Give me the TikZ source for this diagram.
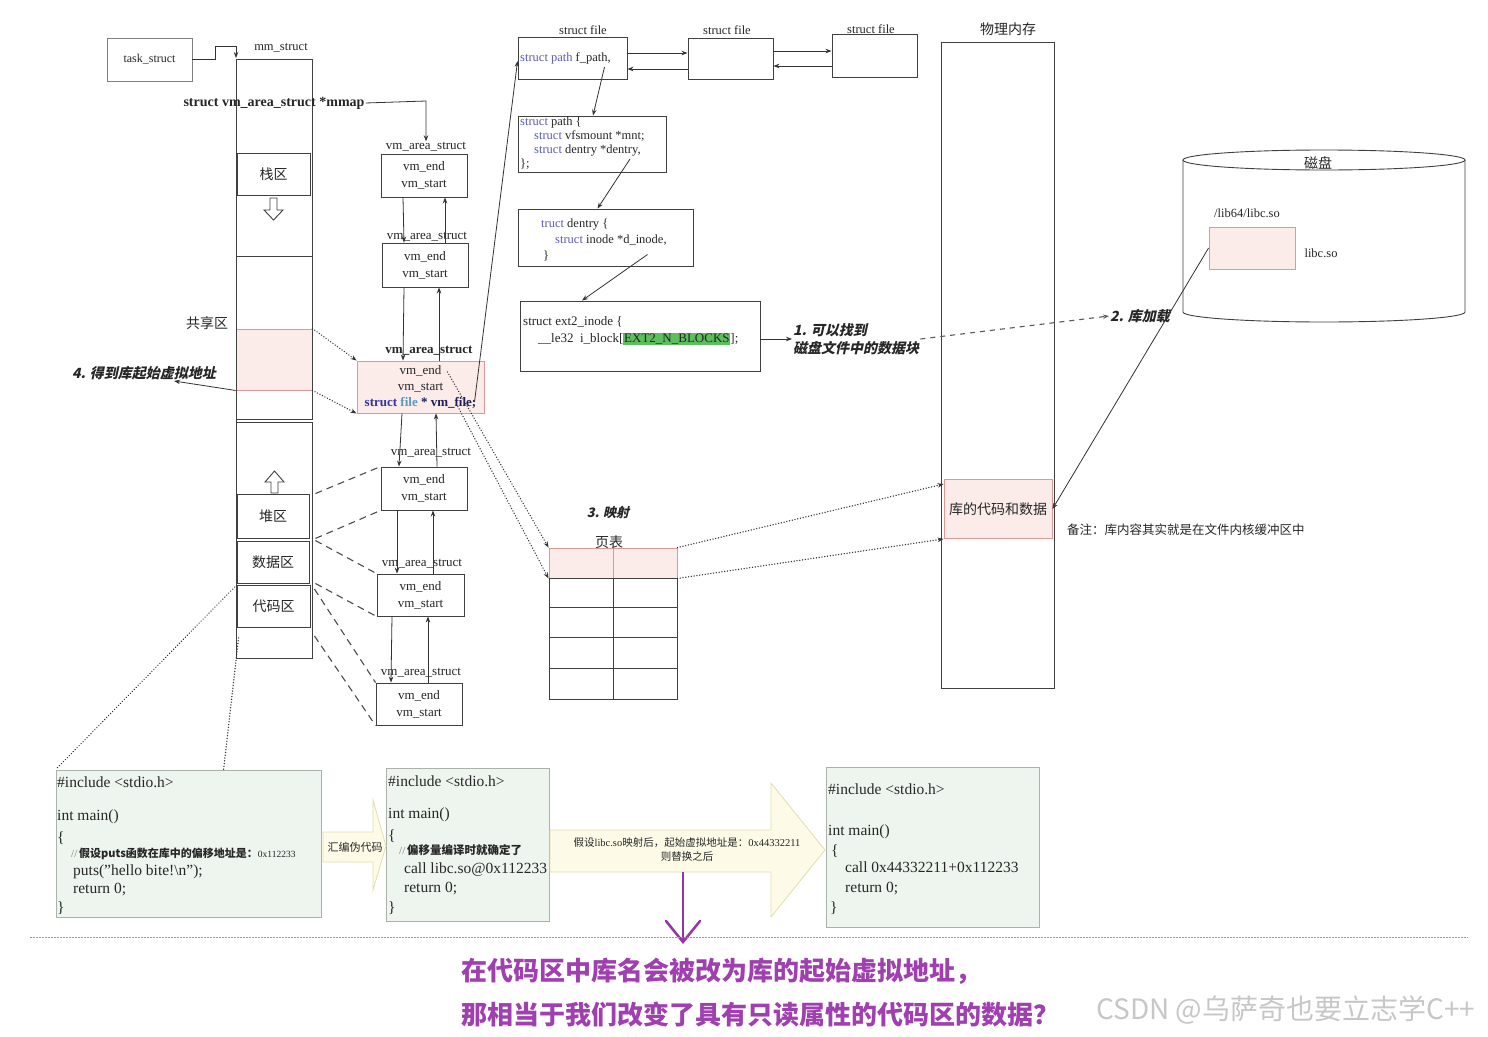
\documentclass[tikz,border=0pt]{standalone}
\usepackage{fontspec}
\setmainfont{Liberation Serif}
\newfontfamily\cjk{Noto Sans CJK SC}
\newfontfamily\cjkbi{Noto Sans CJK SC}[FakeSlant=0.22]
\usetikzlibrary{arrows.meta,calc}
\definecolor{pinkfill}{RGB}{251,236,234}
\definecolor{pinkline}{RGB}{226,150,150}
\definecolor{codefill}{RGB}{238,245,238}
\definecolor{codeline}{RGB}{170,178,170}
\definecolor{arrowfill}{RGB}{253,251,232}
\definecolor{arrowline}{RGB}{228,222,170}
\definecolor{kwblue}{RGB}{50,50,170}
\definecolor{kwlight}{RGB}{90,150,200}
\definecolor{kwnavy}{RGB}{30,30,90}
\definecolor{kwpath}{RGB}{90,90,190}
\definecolor{hlgreen}{RGB}{92,190,92}
\definecolor{purp}{RGB}{160,64,176}
\definecolor{purpline}{RGB}{150,50,170}
\newcommand{\fsz}[2]{\fontsize{#1}{#2}\selectfont}
\begin{document}
\begin{tikzpicture}[x=1pt,y=-1pt,
  every node/.style={text=black!85, inner sep=1pt},
  box/.style={draw=black!75, line width=0.9pt, inner sep=0pt, align=center},
  lbl/.style={font=\fsz{13}{15}},
  vm/.style={box, minimum width=86, minimum height=43, font=\fsz{13}{17}},
  seg/.style={box, font=\cjk\fsz{14}{16}},
  pinkb/.style={fill=pinkfill, draw=pinkline},
  arr/.style={draw=black!80, line width=0.8pt, -{Stealth[length=6pt,width=4.5pt]}},
  dsh/.style={draw=black!70, line width=1.1pt, dash pattern=on 7pt off 5pt},
  dot/.style={draw=black!80, line width=1.5pt, line cap=round, dash pattern=on 0.01pt off 2.8pt},
  darr/.style={dot, -{Stealth[length=6pt,width=4.5pt]}},
  codebox/.style={draw=codeline, fill=codefill, line width=0.8pt, inner sep=0pt},
  code/.style={anchor=base west, font=\fsz{15.5}{18}, inner sep=0pt},
  bi/.style={font=\cjkbi\bfseries\fsz{14}{18}}
]
\useasboundingbox (0,0) rectangle (1488,1036);
\fill[white] (0,0) rectangle (1488,1036);

% ---------- task_struct / mm_struct ----------
\node[box, draw=black!50, minimum width=85, minimum height=43, font=\fsz{12}{14}] (task) at (149.5,59.5) {task\_struct};
\coordinate (mmtop) at (236,58);
\draw[arr] (task.east) -- (215,59.5) -- (215,46) -- (236,46) -- (mmtop);
\node[font=\fsz{12.5}{14}] at (281,48) {mm\_struct};

% column
\node[box, pinkb, minimum width=76, minimum height=61] (shared) at (274,359.5) {};
\draw[draw=black!75, line width=0.9pt] (236,59) rectangle (312,256);
\draw[draw=black!75, line width=0.9pt] (236,256) rectangle (312,419);
\draw[draw=black!75, line width=0.9pt] (236,422) rectangle (312,658);
\draw[draw=black!75, line width=0.9pt] (236,419) -- (236,422);
\node[seg, minimum width=73, minimum height=42] (stack) at (273.5,174.5) {栈区};
\draw[draw=black!75, line width=0.9pt, fill=white] (270,198) -- (277,198) -- (277,210) -- (283,210) -- (273.5,220) -- (264,210) -- (270,210) -- cycle;
\draw[draw=black!75, line width=0.9pt, fill=white] (271,493) -- (271,482) -- (265,482) -- (274.5,471) -- (284,482) -- (278,482) -- (278,493) -- cycle;
\node[seg, minimum width=72, minimum height=44] (heap) at (273,516) {堆区};
\node[seg, minimum width=72, minimum height=42] (data) at (273,562) {数据区};
\node[seg, minimum width=73, minimum height=42] (code) at (273.5,606.5) {代码区};
\node[font=\cjk\fsz{14}{16}] at (207,323) {共享区};

\node[font=\bfseries\fsz{14}{16}] (mmap) at (274,103) {struct vm\_area\_struct *mmap};

\node[bi, anchor=west] (getaddr) at (71,373) {4. 得到库起始虚拟地址};
\draw[arr] (shared.south west) -- ($(getaddr.south)+(30,0)$);

% ---------- vm_area_struct chain ----------
\node[lbl] (vl1) at (426,147) {vm\_area\_struct};
\node[vm] (vm1) at (424,175.5) {vm\_end\\vm\_start};
\node[lbl] (vl2) at (427,237) {vm\_area\_struct};
\node[vm, minimum height=44] (vm2) at (425,265) {vm\_end\\vm\_start};
\node[lbl, font=\bfseries\fsz{13}{15}] (vl3) at (429,351) {vm\_area\_struct};
\node[box, pinkb, minimum width=127, minimum height=52, font=\fsz{13}{16}] (vm3) at (420.5,387)
  {vm\_end\\vm\_start\\{\bfseries\textcolor{kwblue}{struct} \textcolor{kwlight}{file} \textcolor{kwnavy}{* vm\_file;}}};
\node[lbl] (vl4) at (431,453) {vm\_area\_struct};
\node[vm] (vm4) at (424,488.5) {vm\_end\\vm\_start};
\node[lbl] (vl5) at (422,564) {vm\_area\_struct};
\node[vm, minimum width=87, minimum height=42] (vm5) at (420.5,595) {vm\_end\\vm\_start};
\node[lbl] (vl6) at (421,673) {vm\_area\_struct};
\node[vm, minimum height=42] (vm6) at (419,704) {vm\_end\\vm\_start};

\draw[arr] (mmap.east) -- (426,101) -- (vl1.north);

\draw[arr] (403,0 |- vm1.south) -- (404,0 |- vm2.north);
\draw[arr] (445,0 |- vm2.north) -- (445,0 |- vm1.south);
\draw[arr] (404,0 |- vm2.south) -- (403,0 |- vm3.north);
\draw[arr] (439,0 |- vm3.north) -- (439,0 |- vm2.south);
\draw[arr] (402,0 |- vm3.south) -- (399,0 |- vm4.north);
\draw[arr] (437,0 |- vm4.north) -- (436,0 |- vm3.south);
\draw[arr] (397,0 |- vm4.south) -- (397,0 |- vm5.north);
\draw[arr] (433,0 |- vm5.north) -- (433,0 |- vm4.south);
\draw[arr] (392,0 |- vm5.south) -- (391,0 |- vm6.north);
\draw[arr] (428,0 |- vm6.north) -- (428,0 |- vm5.south);

% column -> vm links
\draw[darr] (shared.north east) -- (vm3.north west);
\draw[darr] (shared.south east) -- (vm3.south west);
\draw[dsh] ($(heap.north east)+(6,0)$) -- (vm4.north west);
\draw[dsh] ($(heap.south east)+(6,0)$) -- (vm4.south west);
\draw[dsh] ($(data.north east)+(6,0)$) -- (vm5.north west);
\draw[dsh] ($(data.south east)+(6,0)$) -- (vm5.south west);
\draw[dsh] ($(code.north east)+(4,4)$) -- (vm6.north west);
\draw[dsh] ($(code.south east)+(4,8)$) -- (vm6.south west);

% ---------- struct file chain ----------
\node[font=\fsz{12.5}{14}] at (583,30) {struct file};
\node[font=\fsz{12.5}{14}] at (727,30) {struct file};
\node[font=\fsz{12.5}{14}] at (871,29) {struct file};
\node[box, minimum width=109, minimum height=42] (sf1) at (572.5,58) {};
\node[anchor=west, font=\fsz{12.5}{14}, inner sep=0pt] at (520,58) {\textcolor{kwpath}{struct path} f\_path,};
\node[box, minimum width=85, minimum height=41] (sf2) at (730.5,58.5) {};
\node[box, minimum width=85, minimum height=43] (sf3) at (874.5,55.5) {};
\draw[arr] (sf1.east |- 0,53) -- (sf2.west |- 0,53);
\draw[arr] (sf2.west |- 0,69) -- (sf1.east |- 0,69);
\draw[arr] (sf2.east |- 0,51) -- (sf3.west |- 0,51);
\draw[arr] (sf3.west |- 0,66) -- (sf2.east |- 0,66);

\draw[arr] ($(vm3.center)+(54,15)$) -- ($(sf1.west)+(0,3)$);

\node[box, minimum width=148, minimum height=56] (sp) at (592,144) {};
\node[anchor=north west, align=left, font=\fsz{12.5}{14}, inner sep=0pt] at (520,117)
  {\textcolor{kwpath}{struct} path \{\\\hspace*{14pt}\textcolor{kwpath}{struct} vfsmount *mnt;\\\hspace*{14pt}\textcolor{kwpath}{struct} dentry *dentry,\\\};};
\draw[arr] ($(sf1.center)+(32,9)$) -- ($(sp.north)+(1,0)$);

\node[box, minimum width=175, minimum height=57] (dn) at (605.5,237.5) {};
\node[anchor=north west, align=left, font=\fsz{12.5}{16}, inner sep=0pt] at (541,219)
  {\textcolor{kwpath}{truct} dentry \{\\\hspace*{14pt}\textcolor{kwpath}{struct} inode *d\_inode,\\\hspace*{2pt}\}};
\draw[arr] ($(sp.center)+(38,15)$) -- ($(dn.north)+(-8,0)$);

\node[box, minimum width=240, minimum height=70] (ex) at (640,336) {};
\node[anchor=north west, align=left, font=\fsz{13}{17}, inner sep=0pt] at (523,316)
  {struct ext2\_inode \{\\\hspace*{15pt}\_\_le32\ \ i\_block{[}{\setlength{\fboxsep}{0.8pt}\colorbox{hlgreen}{EXT2\_N\_BLOCKS}}];};
\draw[arr] ($(dn.center)+(42,17)$) -- ($(ex.north)+(-58,0)$);

\node[bi, anchor=west, align=left] (find) at (792,339) {1. 可以找到\\磁盘文件中的数据块};
\draw[arr] (ex.east |- find.west) -- (find.west);

% ---------- physical memory ----------
\node[font=\cjk\fsz{14}{16}] at (1008,29) {物理内存};
\node[box, minimum width=113, minimum height=646] (mem) at (997.5,365) {};
\node[box, pinkb, minimum width=108, minimum height=59, font=\cjk\fsz{14}{16}] (lib) at (998,509) {库的代码和数据};
\node[anchor=west, font=\cjk\fsz{12.5}{14}] at (1066,530) {备注：库内容其实就是在文件内核缓冲区中};

\node[bi, anchor=west] (load) at (1109,316) {2. 库加载};
\draw[draw=black!65, line width=1.1pt, dash pattern=on 5pt off 5pt, -{Stealth[length=6pt,width=4.5pt]}] (find.east) -- (load.west);

% ---------- disk ----------
\draw[draw=black!75, line width=0.9pt] (1183,160) -- (1183,312) arc[start angle=180, end angle=0, x radius=141, y radius=10] -- (1465,160);
\draw[draw=black!75, line width=0.9pt] (1324,160) ellipse [x radius=141, y radius=10];
\node[font=\cjk\fsz{14}{16}] at (1318,163) {磁盘};
\node[font=\fsz{12.5}{14}] at (1247,213) {/lib64/libc.so};
\node[box, pinkb, minimum width=86, minimum height=42] (libc) at (1252,248) {};
\node[font=\fsz{12.5}{14}] at (1321,253) {libc.so};
\draw[arr] (libc.west) -- (lib.east);

% ---------- page table ----------
\node[font=\cjkbi\bfseries\fsz{13}{16}] at (608,513) {3. 映射};
\node[font=\cjk\fsz{14}{16}] at (609,542) {页表};
\node[box, pinkb, minimum width=64, minimum height=30] (pt1) at (581,563) {};
\node[box, pinkb, minimum width=64, minimum height=30] (pt2) at (645,563) {};
\draw[draw=black!75, line width=0.9pt] (549,578) rectangle (677,699);
\draw[draw=black!75, line width=0.9pt] (549,607) -- (677,607) (549,637) -- (677,637) (549,668) -- (677,668) (613,578) -- (613,699);
\draw[darr] ($(vm3.center)+(27,-15)$) -- (pt1.north west);
\draw[darr] ($(vm3.center)+(36,17)$) -- (pt1.south west);
\draw[darr] (pt2.north east) -- ($(lib.north west)+(0,5)$);
\draw[darr] (pt2.south east) -- (lib.south west);

% ---------- code boxes ----------
\node[codebox, minimum width=265, minimum height=147] (cb1) at (188.5,843.5) {};
\node[codebox, minimum width=163, minimum height=153] (cb2) at (467.5,844.5) {};
\node[codebox, minimum width=213, minimum height=160] (cb3) at (932.5,847) {};

\draw[dot] (code.north west) -- (cb1.north west);
\draw[dot] ($(code.south west)+(2,10)$) -- ($(cb1.north west)+(168,0)$);

\node[code] at (57,787) {\#include <stdio.h>};
\node[code] at (57,820) {int main()};
\node[code] at (57,842) {\{};
\node[code] at (71,857) {{\color{black!50}\fsz{11}{12}//\,}{\cjk\bfseries\fsz{11}{12}假设puts函数在库中的偏移地址是：}{\fsz{9.5}{12}0x112233}};
\node[code] at (73,875) {puts("hello bite!\textbackslash n");};
\node[code] at (73,893) {return 0;};
\node[code] at (57,912) {\}};

\node[code] at (388,786) {\#include <stdio.h>};
\node[code] at (388,818) {int main()};
\node[code] at (388,840) {\{};
\node[code] at (399,854) {{\color{black!50}\fsz{11}{12}//\,}{\cjk\bfseries\fsz{11.5}{12}偏移量编译时就确定了}};
\node[code] at (404,873) {call libc.so@0x112233};
\node[code] at (404,892) {return 0;};
\node[code] at (388,912) {\}};

\node[code] at (828,794) {\#include <stdio.h>};
\node[code] at (828,835) {int main()};
\node[code] at (831,855) {\{};
\node[code] at (845,872) {call 0x44332211+0x112233};
\node[code] at (845,892) {return 0;};
\node[code] at (830,912) {\}};

% block arrows
\draw[draw=arrowline, fill=arrowfill, line width=0.8pt] (323,832) -- (373,832) -- (373,800) -- (386,846) -- (373,890) -- (373,862) -- (323,862) -- cycle;
\node[font=\cjk\fsz{11}{12}] at (355,847) {汇编伪代码};
\draw[draw=arrowline, fill=arrowfill, line width=0.8pt] (550,830) -- (771,830) -- (771,783) -- (825,850) -- (771,917) -- (771,872) -- (550,872) -- cycle;
\node[align=center, font=\fsz{10.5}{14}] (repl) at (687,850) {{\cjk 假设}libc.so{\cjk 映射后，起始虚拟地址是：}0x44332211\\{\cjk 则替换之后}};

% purple arrow
\draw[purpline, line width=2.5pt] (683,872) -- (683,941);
\draw[purpline, line width=2.5pt, line cap=round] (666,921) -- (683,942) -- (700,921);

% separator
\draw[black!40, dash pattern=on 1.5pt off 1.5pt, line width=0.8pt] (30,937) -- (1468,937);

% bottom texts
\node[anchor=west, font=\cjk\bfseries\fsz{26}{30}, text=purp] at (460,971) {在代码区中库名会被改为库的起始虚拟地址，};
\node[anchor=west, font=\cjk\bfseries\fsz{26}{30}, text=purp] at (460,1015) {那相当于我们改变了具有只读属性的代码区的数据？};
\node[anchor=west, font=\cjk\fsz{28}{32}, text=black!22] at (1095,1010) {CSDN @乌萨奇也要立志学C++};
\end{tikzpicture}
\end{document}
